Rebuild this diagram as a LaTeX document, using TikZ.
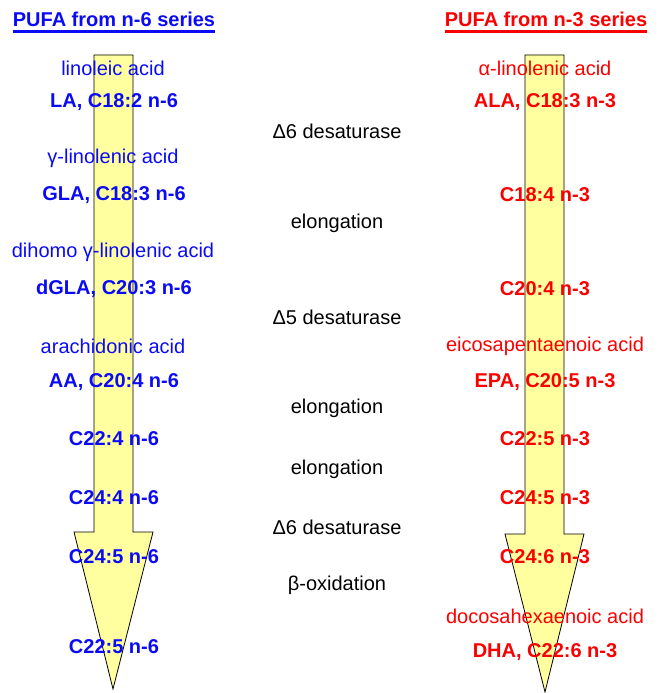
\documentclass[tikz,border=0pt]{standalone}
\usepackage{fontspec}
\setmainfont{Liberation Sans}
\definecolor{nsix}{RGB}{10,10,245}
\definecolor{nthree}{RGB}{250,0,0}
\definecolor{arrowfill}{RGB}{255,255,160}
\tikzset{
  bigarrow/.style={draw=black, line width=0.8pt, fill=arrowfill, line join=miter},
  lbl/.style={font=\fontsize{20}{23}\selectfont, inner sep=0pt, anchor=center},
  blbl/.style={lbl, font=\fontsize{20}{23}\selectfont\bfseries},
  sixn/.style={lbl, text=nsix},
  sixb/.style={blbl, text=nsix},
  threen/.style={lbl, text=nthree},
  threeb/.style={blbl, text=nthree},
  enz/.style={lbl, text=black},
}
\begin{document}
\begin{tikzpicture}[x=1pt,y=-1pt]
\useasboundingbox (0,0) rectangle (657,693);
% arrows
\draw[bigarrow] (94,55) -- (133,55) -- (133,532) -- (153,532) -- (113,689) -- (74,532) -- (94,532) -- cycle;
\draw[bigarrow] (525,55) -- (564,55) -- (564,534) -- (584,534) -- (545,692) -- (505,534) -- (525,534) -- cycle;
% headers
\node[blbl, text=nsix] (h6) at (114,19) {PUFA from n-6 series};
\draw[nsix, line width=2.5pt] (h6.south west) ++(0,5) coordinate (u6a) -- (h6.south east |- u6a) coordinate (u6b);
\node[blbl, text=nthree] (h3) at (546,19) {PUFA from n-3 series};
\draw[nthree, line width=2.5pt] (h3.south west) ++(0,5) coordinate (u3a) -- (h3.south east |- u3a) coordinate (u3b);
% n-6 column
\node[sixn] (la1) at (113,68) {linoleic acid};
\node[sixb] (la2) at (114,102) {LA, C18:2 n-6};
\node[sixn] (gla1) at (113,158) {γ-linolenic acid};
\node[sixb] (gla2) at (114,195) {GLA, C18:3 n-6};
\node[sixn] (dgla1) at (113,252) {dihomo γ-linolenic acid};
\node[sixb] (dgla2) at (114,289) {dGLA, C20:3 n-6};
\node[sixn] (aa1) at (113,346) {arachidonic acid};
\node[sixb] (aa2) at (114,382) {AA, C20:4 n-6};
\node[sixb] (c224) at (114,439) {C22:4 n-6};
\node[sixb] (c244) at (114,498) {C24:4 n-6};
\node[sixb] (c245) at (114,557) {C24:5 n-6};
\node[sixb] (c225) at (114,647) {C22:5 n-6};
% enzymes
\node[enz] (e1) at (337,131) {Δ6 desaturase};
\node[enz] (e2) at (337,223) {elongation};
\node[enz] (e3) at (337,317) {Δ5 desaturase};
\node[enz] (e4) at (337,408) {elongation};
\node[enz] (e5) at (337,469) {elongation};
\node[enz] (e6) at (337,527) {Δ6 desaturase};
\node[enz] (e7) at (337,585) {β-oxidation};
% n-3 column
\node[threen] (ala1) at (545,68) {α-linolenic acid};
\node[threeb] (ala2) at (545,102) {ALA, C18:3 n-3};
\node[threeb] (c184) at (545,195) {C18:4 n-3};
\node[threeb] (c204) at (545,289) {C20:4 n-3};
\node[threen] (epa1) at (545,346) {eicosapentaenoic acid};
\node[threeb] (epa2) at (545,382) {EPA, C20:5 n-3};
\node[threeb] (c225b) at (545,439) {C22:5 n-3};
\node[threeb] (c245b) at (545,498) {C24:5 n-3};
\node[threeb] (c246) at (545,557) {C24:6 n-3};
\node[threen] (dha1) at (545,616) {docosahexaenoic acid};
\node[threeb] (dha2) at (545,652) {DHA, C22:6 n-3};
\end{tikzpicture}
\end{document}
